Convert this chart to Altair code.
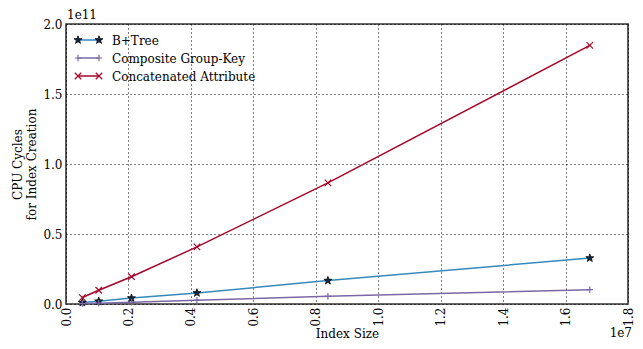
import altair as alt
import pandas as pd

index_size = [524288, 1048576, 2097152, 4194304, 8388608, 16777216]
btree = [1.0e9, 2.0e9, 4.2e9, 7.9e9, 16.7e9, 32.8e9]
composite = [0.3e9, 0.6e9, 1.3e9, 2.7e9, 5.5e9, 10.2e9]
concat = [4.6e9, 9.8e9, 19.5e9, 40.8e9, 86.5e9, 184.7e9]
series_names = ["B+Tree", "Composite Group-Key", "Concatenated Attribute"]
series_values = [btree, composite, concat]
x_ticks = [i * 2e6 for i in range(10)]
y_ticks = [i * 0.5e11 for i in range(5)]

colors = ["#348ABD", "#7A68A6", "#A60628"]
W, H = 562, 280
FONT = "DejaVu Serif"

rows = []
for name, vals in zip(series_names, series_values):
    for xv, yv in zip(index_size, vals):
        rows.append({"x": xv, "y": yv, "series": name})
df = pd.DataFrame(rows)

xscale = alt.Scale(domain=[0, 1.8e7], nice=False, zero=False)
yscale = alt.Scale(domain=[0, 2e11], nice=False)

xaxis = alt.Axis(values=x_ticks, labelExpr="format(datum.value/1e7, '.1f')",
                 title="Index Size", labelAngle=270, labelAlign="right",
                 labelBaseline="middle", labelPadding=3, tickSize=0,
                 grid=True, gridDash=[1, 3], gridColor="black", gridOpacity=1,
                 domain=False, titlePadding=2)
yaxis = alt.Axis(values=y_ticks, labelExpr="format(datum.value/1e11, '.1f')",
                 title=["CPU Cycles", "for Index Creation"], tickSize=0,
                 labelPadding=4, grid=True, gridDash=[1, 3], gridColor="black",
                 gridOpacity=1, domain=False, titlePadding=4, titleLineHeight=14)

X = alt.X("x:Q", scale=xscale, axis=xaxis)
Y = alt.Y("y:Q", scale=yscale, axis=yaxis)
color = alt.Color("series:N", scale=alt.Scale(domain=series_names, range=colors), legend=None)

layers = [alt.Chart(df).mark_line(strokeWidth=1.5).encode(x=X, y=Y, color=color)]

STAR = ("M0,-1L0.235,-0.324L0.951,-0.309L0.380,0.124L0.588,0.809L0,0.4"
        "L-0.588,0.809L-0.380,0.124L-0.951,-0.309L-0.235,-0.324Z")
PLUS = "M-1,0L1,0M0,-1L0,1"
CROSS = "M-1,-1L1,1M-1,1L1,-1"

def marker(chart, i):
    if i == 0:
        return chart.mark_point(shape=STAR, filled=True, fill="#0a2a4a",
                                stroke="black", strokeWidth=0.8, size=70, opacity=1)
    shp = PLUS if i == 1 else CROSS
    return chart.mark_point(shape=shp, filled=False, stroke=colors[i],
                            strokeWidth=1.2, size=42, opacity=1)

for i, name in enumerate(series_names):
    sub = alt.Chart(df).transform_filter(alt.datum.series == name)
    layers.append(marker(sub, i).encode(x=X, y=Y))

# legend (upper left, no frame)
leg = pd.DataFrame({"series": series_names, "idx": [0, 1, 2]})
for i, name in enumerate(series_names):
    ly = 16 + 18 * i
    lb = alt.Chart(leg).transform_filter(alt.datum.series == name)
    layers.append(lb.mark_rule(color=colors[i], strokeWidth=1.5).encode(
        x=alt.value(12), x2=alt.value(33), y=alt.value(ly)))
    for lx in (12, 33):
        layers.append(marker(lb, i).encode(x=alt.value(lx), y=alt.value(ly)))
    layers.append(lb.mark_text(align="left", baseline="middle", font=FONT,
                               fontSize=12, color="black").encode(
        text="series:N", x=alt.value(46), y=alt.value(ly + 1)))

off = pd.DataFrame({"t": ["1e11", "1e7"]})
layers.append(alt.Chart(off).transform_filter(alt.datum.t == "1e11").mark_text(
    align="left", baseline="alphabetic", font=FONT, fontSize=12, color="black"
).encode(text="t:N", x=alt.value(1), y=alt.value(-5)))
layers.append(alt.Chart(off).transform_filter(alt.datum.t == "1e7").mark_text(
    align="right", baseline="bottom", font=FONT, fontSize=12, color="black"
).encode(text="t:N", x=alt.value(W + 4), y=alt.value(H + 36)))

chart = alt.layer(*layers).properties(
    width=W, height=H,
    autosize=alt.AutoSizeParams(type="none"),
    padding={"left": 58, "top": 16, "right": 7, "bottom": 37},
    background="white",
).configure_view(stroke="#333", strokeWidth=1.6).configure_axis(
    labelFont=FONT, titleFont=FONT, labelFontSize=12, titleFontSize=12,
    labelColor="black", titleColor="black", titleFontWeight="normal"
)

chart.save("out.html", embed_options={"renderer": "svg", "actions": False})
